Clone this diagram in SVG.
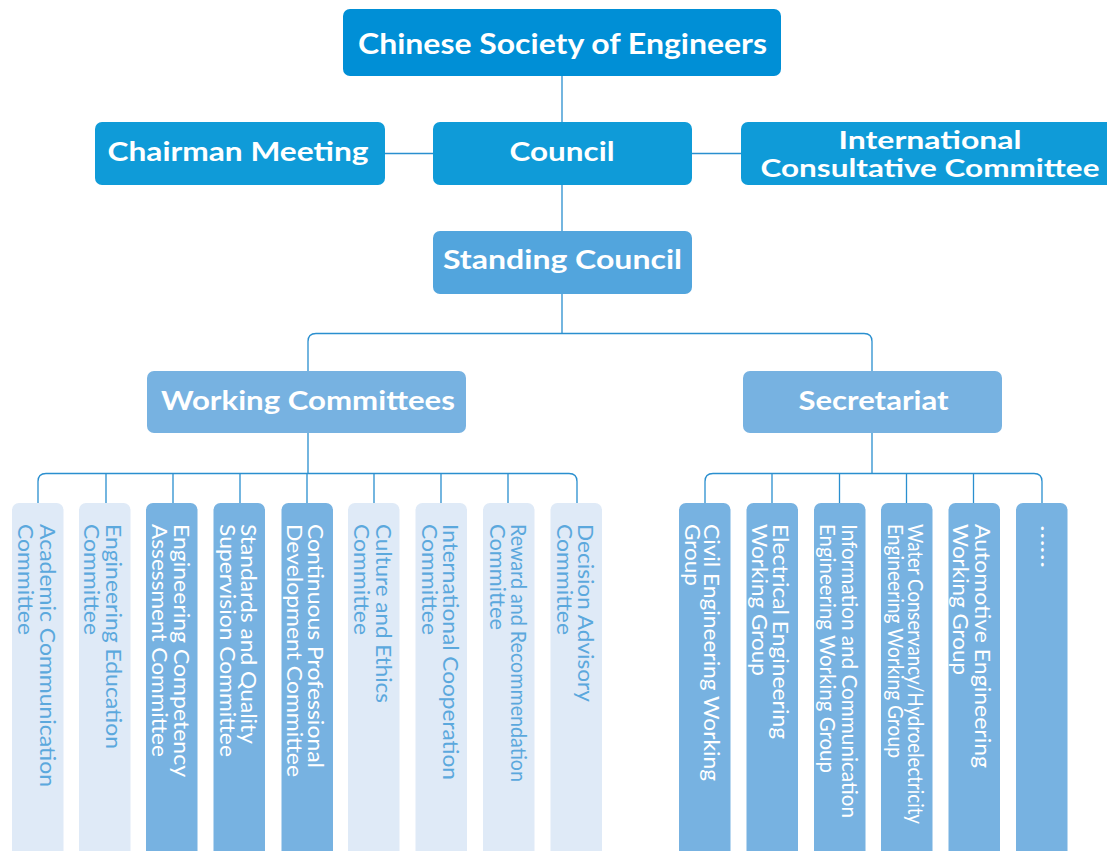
<svg xmlns="http://www.w3.org/2000/svg" width="1107" height="851" viewBox="0 0 1107 851">
<style>
.hd{font-family:Lato,"Open Sans","Liberation Sans",sans-serif;font-weight:bold;fill:#fff;text-anchor:middle}
.vt{font-family:Lato,"Open Sans","Liberation Sans",sans-serif;font-size:21px}
.w{fill:#fff}
.l{fill:#5ba8dd}
.dk{fill:#77b2e1}
.lt{fill:#dfeaf7}
.cn{fill:none;stroke:#2a8fcf;stroke-width:1.3}
</style>
<rect width="1107" height="851" fill="#fff"/>
<g id="connectors" class="cn">
<path d="M562 76V122M385 153.5H433M692 153.5H741M562 185V231M562 294V333.5"/>
<path d="M308 371V341.5Q308 333.5 316 333.5H864Q872 333.5 872 341.5V371"/>
<path d="M308 433V473.5M38 503V481.5Q38 473.5 46 473.5H569Q577 473.5 577 481.5V503M106 473.5V503M173 473.5V503M240 473.5V503M307 473.5V503M374 473.5V503M441 473.5V503M508 473.5V503"/>
<path d="M872 433V473.5M705 503V481.5Q705 473.5 713 473.5H1034Q1042 473.5 1042 481.5V503M772 473.5V503M839.5 473.5V503M906.5 473.5V503M973.5 473.5V503"/>
</g>
<g id="n-cse"><rect x="343" y="9" width="438" height="67" rx="7" fill="#008fd6"/><text class="hd" x="562.5" y="53.5" font-size="29" textLength="409" lengthAdjust="spacingAndGlyphs">Chinese Society of Engineers</text></g>
<g id="n-chair"><rect x="95" y="122" width="290" height="63" rx="7" fill="#0f9bd8"/><text class="hd" x="238" y="160.5" font-size="27" textLength="261" lengthAdjust="spacingAndGlyphs">Chairman Meeting</text></g>
<g id="n-council"><rect x="433" y="122" width="259" height="63" rx="7" fill="#0f9bd8"/><text class="hd" x="562" y="160.5" font-size="27" textLength="105" lengthAdjust="spacingAndGlyphs">Council</text></g>
<g id="n-icc"><rect x="741" y="122" width="380" height="63" rx="7" fill="#0f9bd8"/><text class="hd" x="930" y="148.5" font-size="25" textLength="183" lengthAdjust="spacingAndGlyphs">International</text><text class="hd" x="930" y="177" font-size="25" textLength="339" lengthAdjust="spacingAndGlyphs">Consultative Committee</text></g>
<g id="n-standing"><rect x="433" y="231" width="259" height="63" rx="7" fill="#52a5dd"/><text class="hd" x="562.5" y="269" font-size="27" textLength="239" lengthAdjust="spacingAndGlyphs">Standing Council</text></g>
<g id="n-wc"><rect x="147" y="371" width="319" height="62" rx="7" fill="#77b2e1"/><text class="hd" x="308" y="409.5" font-size="27" textLength="294" lengthAdjust="spacingAndGlyphs">Working Committees</text></g>
<g id="n-sec"><rect x="743" y="371" width="259" height="62" rx="7" fill="#77b2e1"/><text class="hd" x="873.5" y="409.5" font-size="27" textLength="150" lengthAdjust="spacingAndGlyphs">Secretariat</text></g>

<g id="c1"><rect class="lt" x="12" y="503" width="51.5" height="356" rx="7"/><text class="vt l" transform="translate(39.5,524) rotate(90)" textLength="263" lengthAdjust="spacingAndGlyphs">Academic Communication</text><text class="vt l" transform="translate(17.5,524) rotate(90)" textLength="111" lengthAdjust="spacingAndGlyphs">Committee</text></g>
<g id="c2"><rect class="lt" x="79" y="503" width="51.5" height="356" rx="7"/><text class="vt l" transform="translate(106,524) rotate(90)" textLength="225" lengthAdjust="spacingAndGlyphs">Engineering Education</text><text class="vt l" transform="translate(84,524) rotate(90)" textLength="111" lengthAdjust="spacingAndGlyphs">Committee</text></g>
<g id="c3"><rect class="dk" x="146" y="503" width="51.5" height="356" rx="7"/><text class="vt w" transform="translate(174,524) rotate(90)" textLength="253" lengthAdjust="spacingAndGlyphs">Engineering Competency</text><text class="vt w" transform="translate(152,524) rotate(90)" textLength="233" lengthAdjust="spacingAndGlyphs">Assessment Committee</text></g>
<g id="c4"><rect class="dk" x="213.5" y="503" width="51.5" height="356" rx="7"/><text class="vt w" transform="translate(241,524) rotate(90)" textLength="220" lengthAdjust="spacingAndGlyphs">Standards and Quality</text><text class="vt w" transform="translate(219.5,524) rotate(90)" textLength="233" lengthAdjust="spacingAndGlyphs">Supervision Committee</text></g>
<g id="c5"><rect class="dk" x="281.5" y="503" width="51.5" height="356" rx="7"/><text class="vt w" transform="translate(308,524) rotate(90)" textLength="244" lengthAdjust="spacingAndGlyphs">Continuous Professional</text><text class="vt w" transform="translate(287,524) rotate(90)" textLength="253" lengthAdjust="spacingAndGlyphs">Development Committee</text></g>
<g id="c6"><rect class="lt" x="348" y="503" width="51.5" height="356" rx="7"/><text class="vt l" transform="translate(376,524) rotate(90)" textLength="179" lengthAdjust="spacingAndGlyphs">Culture and Ethics</text><text class="vt l" transform="translate(354,524) rotate(90)" textLength="111" lengthAdjust="spacingAndGlyphs">Committee</text></g>
<g id="c7"><rect class="lt" x="415.5" y="503" width="51.5" height="356" rx="7"/><text class="vt l" transform="translate(443,524) rotate(90)" textLength="256" lengthAdjust="spacingAndGlyphs">International Cooperation</text><text class="vt l" transform="translate(421.5,524) rotate(90)" textLength="111" lengthAdjust="spacingAndGlyphs">Committee</text></g>
<g id="c8"><rect class="lt" x="483" y="503" width="51.5" height="356" rx="7"/><text class="vt l" transform="translate(511,524) rotate(90)" textLength="258" lengthAdjust="spacingAndGlyphs">Reward and Recommendation</text><text class="vt l" transform="translate(490,524) rotate(90)" textLength="106" lengthAdjust="spacingAndGlyphs">Committee</text></g>
<g id="c9"><rect class="lt" x="550.5" y="503" width="51.5" height="356" rx="7"/><text class="vt l" transform="translate(578,524) rotate(90)" textLength="178" lengthAdjust="spacingAndGlyphs">Decision Advisory</text><text class="vt l" transform="translate(556.5,524) rotate(90)" textLength="111" lengthAdjust="spacingAndGlyphs">Committee</text></g>

<g id="s1"><rect class="dk" x="679" y="503" width="51.5" height="356" rx="7"/><text class="vt w" transform="translate(704,524) rotate(90)" textLength="257" lengthAdjust="spacingAndGlyphs">Civil Engineering Working</text><text class="vt w" transform="translate(685,524) rotate(90)" textLength="62" lengthAdjust="spacingAndGlyphs">Group</text></g>
<g id="s2"><rect class="dk" x="746.5" y="503" width="51.5" height="356" rx="7"/><text class="vt w" transform="translate(773,524) rotate(90)" textLength="215" lengthAdjust="spacingAndGlyphs">Electrical Engineering</text><text class="vt w" transform="translate(752,524) rotate(90)" textLength="152" lengthAdjust="spacingAndGlyphs">Working Group</text></g>
<g id="s3"><rect class="dk" x="814" y="503" width="51.5" height="356" rx="7"/><text class="vt w" transform="translate(842,524) rotate(90)" textLength="294" lengthAdjust="spacingAndGlyphs">Information and Communication</text><text class="vt w" transform="translate(819.5,524) rotate(90)" textLength="249" lengthAdjust="spacingAndGlyphs">Engineering Working Group</text></g>
<g id="s4"><rect class="dk" x="881" y="503" width="51.5" height="356" rx="7"/><text class="vt w" font-size="20" transform="translate(907.5,524) rotate(90)" textLength="300" lengthAdjust="spacingAndGlyphs">Water Conservancy/Hydroelectricity</text><text class="vt w" transform="translate(887.5,524) rotate(90)" textLength="234" lengthAdjust="spacingAndGlyphs">Engineering Working Group</text></g>
<g id="s5"><rect class="dk" x="948.5" y="503" width="51.5" height="356" rx="7"/><text class="vt w" transform="translate(974.5,524) rotate(90)" textLength="244" lengthAdjust="spacingAndGlyphs">Automotive Engineering</text><text class="vt w" transform="translate(953,524) rotate(90)" textLength="151" lengthAdjust="spacingAndGlyphs">Working Group</text></g>
<g id="s6"><rect class="dk" x="1016" y="503" width="51.5" height="356" rx="7"/><text class="vt w" transform="translate(1040.5,525) rotate(90)" textLength="43" lengthAdjust="spacingAndGlyphs">……</text></g>
</svg>
